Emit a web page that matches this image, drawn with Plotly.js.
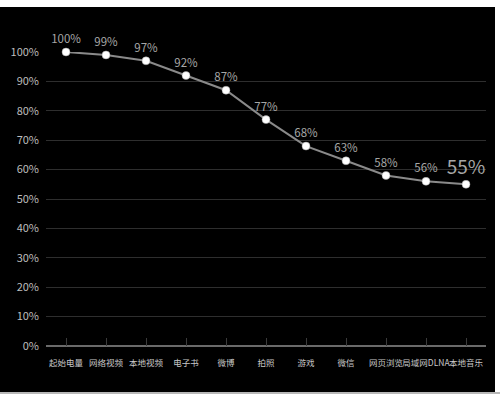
<!DOCTYPE html>
<html>
<head>
<meta charset="utf-8">
<script src="https://cdn.plot.ly/plotly-3.0.1.min.js"></script>
<style>
  html, body { margin: 0; padding: 0; background: #ffffff; width: 500px; height: 394px; overflow: hidden; }
  #chart { position: absolute; left: 0; top: 7px; width: 495px; height: 385px; }
  #strip { position: absolute; left: 0; top: 392px; width: 500px; height: 2px; background: #b8b8b8; }
</style>
</head>
<body>
<div id="chart"></div>
<div id="strip"></div>
<script>
const categories = ["起始电量", "网络视频", "本地视频", "电子书", "微博", "拍照", "游戏", "微信", "网页浏览", "局域网DLNA", "本地音乐"];
const batteryLevel = [100, 99, 97, 92, 87, 77, 68, 63, 58, 56, 55];
const yTickValues = [0, 10, 20, 30, 40, 50, 60, 70, 80, 90, 100];
const yTickLabels = ["0%", "10%", "20%", "30%", "40%", "50%", "60%", "70%", "80%", "90%", "100%"];

const labelText = batteryLevel.map(v => v + "%");
const labelSizes = batteryLevel.map((v, i) => i === batteryLevel.length - 1 ? 19 : 11.5);

const trace = {
  type: "scatter",
  mode: "lines+markers+text",
  x: categories,
  y: batteryLevel,
  text: labelText,
  textposition: "top center",
  textfont: { family: "Noto Sans CJK SC, Noto Sans, sans-serif", size: labelSizes, color: "#a6a6a6" },
  line: { color: "#8a8a8a", width: 2 },
  marker: { color: "#ffffff", size: 8, line: { color: "#9a9a9a", width: 0.5 } },
  cliponaxis: false,
  hoverinfo: "none"
};

const layout = {
  paper_bgcolor: "#000000",
  plot_bgcolor: "#000000",
  width: 495,
  height: 385,
  margin: { l: 46, r: 9, t: 45, b: 46 },
  showlegend: false,
  font: { family: "Noto Sans CJK SC, Noto Sans, sans-serif", color: "#bbbbbb" },
  xaxis: {
    type: "category",
    range: [-0.5, 10.5],
    showgrid: false,
    zeroline: false,
    showline: false,
    ticks: "inside",
    ticklen: 8,
    tickwidth: 1,
    tickcolor: "#3a3a3a",
    ticklabelstandoff: 10,
    tickfont: { size: 8.5, color: "#c8c8c8" },
    tickangle: 0,
    fixedrange: true
  },
  yaxis: {
    range: [0, 100],
    tickvals: yTickValues,
    ticktext: yTickLabels,
    showgrid: true,
    gridcolor: "#2e2e2e",
    gridwidth: 1,
    zeroline: true,
    zerolinecolor: "#6a6a6a",
    zerolinewidth: 1.2,
    showline: false,
    ticks: "",
    ticklabelstandoff: 6,
    tickfont: { size: 11, color: "#bdbdbd" },
    fixedrange: true
  }
};

Plotly.newPlot("chart", [trace], layout, { displayModeBar: false, staticPlot: true });
</script>
</body>
</html>
